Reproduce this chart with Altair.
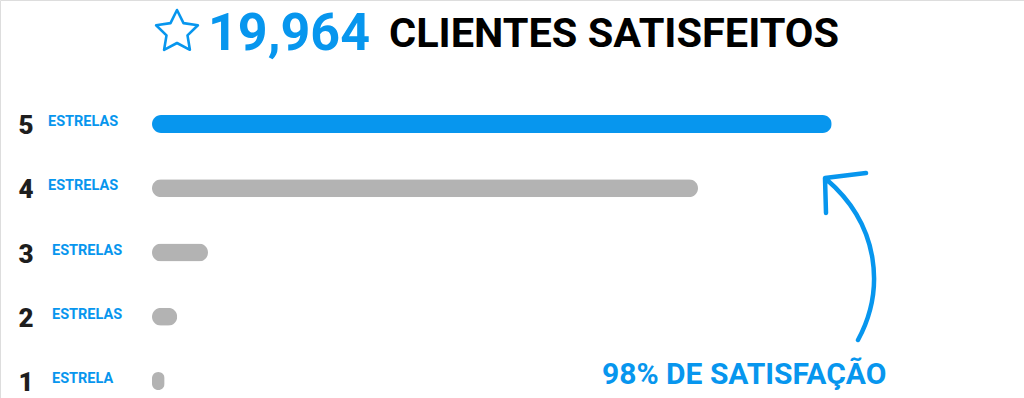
import altair as alt
import pandas as pd

# ---- data ----
stars = ["5", "4", "3", "2", "1"]
labels = ["ESTRELAS", "ESTRELAS", "ESTRELAS", "ESTRELAS", "ESTRELA"]
lengths = [97.1, 78.0, 8.0, 3.6, 1.8]          # bar length, % of axis
label_shift = [0, 0, 4, 4, 4]                  # small text indent differences
highlight = [True, False, False, False, False]

total_text = "19,964"
title_text = "CLIENTES SATISFEITOS"
note_text = "98% DE SATISFAÇÃO"

BLUE = "#0796ee"
GRAY = "#b3b3b3"
DARK = "#1e1e1e"

df = pd.DataFrame({
    "star": stars,
    "label": labels,
    "value": lengths,
    "shift": label_shift,
    "hl": highlight,
})

yscale = alt.Scale(type="point", domain=stars, range=[124, 381], padding=0)
xscale = alt.Scale(domain=[0, 100], range=[152, 852])

base = alt.Chart(df)

bars = base.mark_bar(size=18, cornerRadius=9).encode(
    x=alt.X("value:Q", scale=xscale, axis=None),
    y=alt.Y("star:N", scale=yscale, axis=None),
    color=alt.Color("hl:N", scale=alt.Scale(domain=[True, False], range=[BLUE, GRAY]), legend=None),
)

nums = base.mark_text(font="Roboto", fontWeight=900, fontSize=26, color=DARK,
                      align="center", baseline="middle", dy=2).encode(
    x=alt.value(26),
    y=alt.Y("star:N", scale=yscale, axis=None),
    text="star:N",
)

lab = base.mark_text(font="Roboto", fontWeight="bold", fontSize=14.5, color=BLUE,
                     align="left", baseline="middle", dy=-2).encode(
    x=alt.X("shift:Q", scale=alt.Scale(domain=[0, 100], range=[48, 148]), axis=None),
    y=alt.Y("star:N", scale=yscale, axis=None),
    text="label:N",
)

one = pd.DataFrame({"k": [0]})

star_path = ("M0,-22 L6.5,-8.9 L20.9,-6.8 L10.5,3.4 L12.9,17.8 L0,11 "
             "L-12.9,17.8 L-10.5,3.4 L-20.9,-6.8 L-6.5,-8.9 Z")
star_icon = alt.Chart(one).mark_point(
    shape=star_path, size=4, filled=False, stroke=BLUE, strokeWidth=2.6,
    strokeJoin="round", opacity=1,
).encode(x=alt.value(177), y=alt.value(32))

total = alt.Chart(one).mark_text(
    text=total_text, font="Roboto", fontWeight="bold", fontSize=52, color=BLUE,
    align="left", baseline="alphabetic",
).encode(x=alt.value(208), y=alt.value(50))

title = alt.Chart(one).mark_text(
    text=title_text, font="Roboto", fontWeight="bold", fontSize=41.5, color="#000000",
    align="left", baseline="alphabetic",
).encode(x=alt.value(389), y=alt.value(47))

note = alt.Chart(one).mark_text(
    text=note_text, font="Roboto", fontWeight="bold", fontSize=30, color=BLUE,
    align="left", baseline="alphabetic",
).encode(x=alt.value(602), y=alt.value(384))

arrow_path = ("M8,80 C35,30 30,-35 -24,-81 "
              "M16,-87 L-25,-82 L-24,-47")
arrow = alt.Chart(one).mark_point(
    shape=arrow_path, size=4, filled=False, stroke=BLUE, strokeWidth=4.5,
    strokeCap="round", strokeJoin="round", opacity=1,
).encode(x=alt.value(850), y=alt.value(260))

chart = alt.layer(bars, nums, lab, star_icon, total, title, note, arrow).resolve_scale(
    x="independent"
).properties(
    width=1024, height=398, padding=0,
    autosize=alt.AutoSizeParams(type="none"),
).configure_view(stroke="transparent", strokeWidth=0).configure(background="white")

chart.save("out.html", embed_options={"renderer": "svg", "actions": False})
